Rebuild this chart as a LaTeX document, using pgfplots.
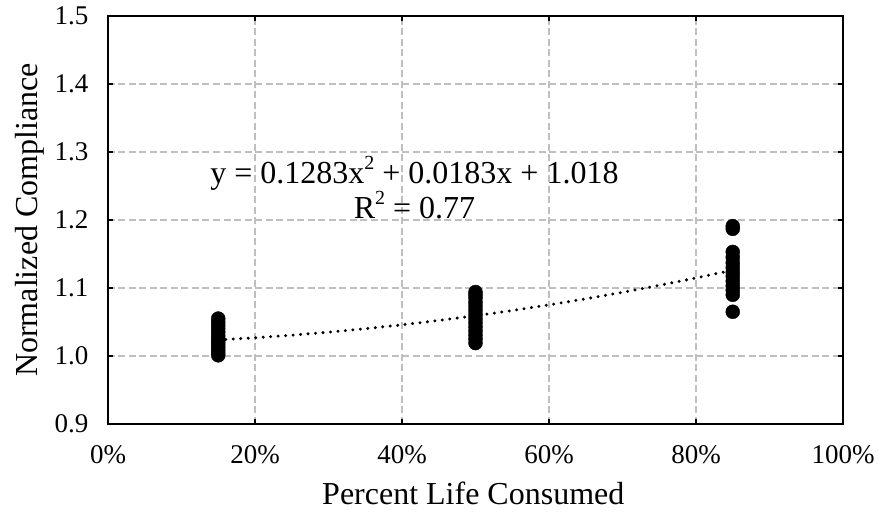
\documentclass[border=0pt]{standalone}
\usepackage{fontspec}
\setmainfont{Liberation Serif}
\usepackage{pgfplots}
\pgfplotsset{compat=1.18}
\definecolor{gridgray}{RGB}{191,191,191}
\begin{document}
\begin{tikzpicture}
\begin{axis}[
  scale only axis,
  width=735pt, height=408pt,
  xmin=0, xmax=1, ymin=0.9, ymax=1.5,
  xtick={0,0.2,0.4,0.6,0.8,1},
  xticklabels={0\%,20\%,40\%,60\%,80\%,100\%},
  ytick={0.9,1.0,1.1,1.2,1.3,1.4,1.5},
  yticklabels={0.9,1.0,1.1,1.2,1.3,1.4,1.5},
  yticklabel style={font=\fontsize{27}{30}\selectfont, anchor=east, xshift=-16pt},
  xticklabel style={font=\fontsize{27}{30}\selectfont, anchor=north, yshift=-18pt},
  tick align=inside,
  major tick length=5pt,
  tick style={black, line width=1.2pt},
  axis line style={black, line width=1.5pt},
  grid=major,
  major grid style={gridgray, line width=1.3pt, dash pattern=on 7pt off 3.5pt},
  xlabel={Percent Life Consumed},
  ylabel={Normalized Compliance},
  every axis x label/.style={at={(axis description cs:0.497,-0.17)}, anchor=center, font=\fontsize{32}{36}\selectfont},
  every axis y label/.style={at={(axis description cs:-0.106,0.5)}, rotate=90, anchor=center, font=\fontsize{32}{36}\selectfont},
  clip=false,
]
\addplot[only marks, mark=*, mark size=7pt, black] coordinates {
 (0.15,1.001) (0.15,1.005) (0.15,1.009) (0.15,1.013) (0.15,1.017) (0.15,1.021)
 (0.15,1.025) (0.15,1.030) (0.15,1.035) (0.15,1.040) (0.15,1.045) (0.15,1.050) (0.15,1.055)
 (0.50,1.019) (0.50,1.025) (0.50,1.031) (0.50,1.037) (0.50,1.043) (0.50,1.049)
 (0.50,1.055) (0.50,1.061) (0.50,1.067) (0.50,1.073) (0.50,1.079) (0.50,1.085) (0.50,1.090) (0.50,1.094)
 (0.85,1.065) (0.85,1.090) (0.85,1.097) (0.85,1.103) (0.85,1.110) (0.85,1.117)
 (0.85,1.123) (0.85,1.130) (0.85,1.137) (0.85,1.145) (0.85,1.153) (0.85,1.187) (0.85,1.191)
};
\addplot[black, line width=3.3pt, line cap=round, dash pattern=on 0pt off 7.5pt] coordinates {
 (0.15,1.02363) (0.20,1.02679) (0.25,1.03059) (0.30,1.03504) (0.35,1.04012)
 (0.40,1.04585) (0.45,1.05222) (0.50,1.05923) (0.55,1.06688) (0.60,1.07517)
 (0.65,1.08410) (0.70,1.09368) (0.75,1.10389) (0.80,1.11475) (0.85,1.12625)
};
\node[align=center, font=\fontsize{32}{35}\selectfont, inner sep=0pt] at (axis cs:0.417,1.248)
  {y = 0.1283x\raisebox{0.45em}{\fontsize{20}{20}\selectfont 2} + 0.0183x + 1.018\\R\raisebox{0.45em}{\fontsize{20}{20}\selectfont 2} = 0.77};
\end{axis}
\path ([xshift=-108pt,yshift=-88pt]current axis.south west) rectangle ([xshift=36pt,yshift=16pt]current axis.north east);
\end{tikzpicture}
\end{document}
